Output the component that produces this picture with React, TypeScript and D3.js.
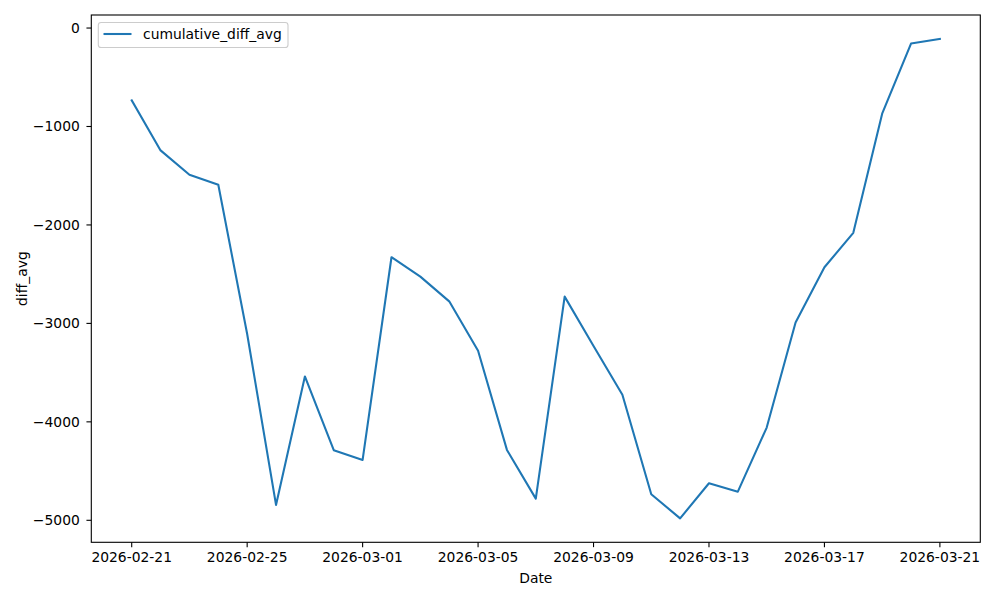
import React, { useEffect, useRef } from "react";
import * as d3 from "d3";

const dates: string[] = [
  "2026-02-21", "2026-02-22", "2026-02-23", "2026-02-24", "2026-02-25", "2026-02-26",
  "2026-02-27", "2026-02-28", "2026-03-01", "2026-03-02", "2026-03-03", "2026-03-04",
  "2026-03-05", "2026-03-06", "2026-03-07", "2026-03-08", "2026-03-09", "2026-03-10",
  "2026-03-11", "2026-03-12", "2026-03-13", "2026-03-14", "2026-03-15", "2026-03-16",
  "2026-03-17", "2026-03-18", "2026-03-19", "2026-03-20", "2026-03-21",
];
const cumulativeDiffAvg: number[] = [
  -734, -1243, -1490, -1592, -3108, -4844,
  -3539, -4288, -4387, -2328, -2525, -2776,
  -3278, -4285, -4780, -2728, -3230, -3725,
  -4736, -4980, -4624, -4709, -4058, -2990,
  -2430, -2080, -870, -158, -111,
];
const xTickLabels: string[] = [
  "2026-02-21", "2026-02-25", "2026-03-01", "2026-03-05", "2026-03-09",
  "2026-03-13", "2026-03-17", "2026-03-21",
];
const yTicks: number[] = [0, -1000, -2000, -3000, -4000, -5000];
const seriesName = "cumulative_diff_avg";

const W = 1000, H = 600;
const L = 91.3, R = 980.3, T = 15, B = 542.3;
const FONT = "DejaVu Sans, sans-serif";
const FS = 13.89;
const BLUE = "#1f77b4";

export default function App() {
  const ref = useRef<SVGSVGElement | null>(null);
  useEffect(() => {
    document.body.style.margin = "0";
    const svg = d3.select(ref.current);
    svg.selectAll("*").remove();
    const parse = d3.utcParse("%Y-%m-%d");
    const xs = dates.map((d) => parse(d) as Date);
    const x0 = +xs[0], x1 = +xs[xs.length - 1];
    const xm = (x1 - x0) * 0.05;
    const x = d3.scaleUtc().domain([new Date(x0 - xm), new Date(x1 + xm)]).range([L, R]);
    const ymin = d3.min(cumulativeDiffAvg)!, ymax = d3.max(cumulativeDiffAvg)!;
    const ym = (ymax - ymin) * 0.05;
    const y = d3.scaleLinear().domain([ymin - ym, ymax + ym]).range([B, T]);

    svg.append("rect").attr("x", 0).attr("y", 0).attr("width", W).attr("height", H).attr("fill", "white");

    const line = d3.line<number>().x((_, i) => x(xs[i])).y((v) => y(v));
    svg.append("path").datum(cumulativeDiffAvg).attr("d", line)
      .attr("fill", "none").attr("stroke", BLUE).attr("stroke-width", 2.08)
      .attr("stroke-linejoin", "round").attr("stroke-linecap", "square");

    // frame
    svg.append("rect").attr("x", L).attr("y", T).attr("width", R - L).attr("height", B - T)
      .attr("fill", "none").attr("stroke", "black").attr("stroke-width", 1.1);

    // x ticks
    const fmt = (v: number) => (v < 0 ? "\u2212" + Math.abs(v) : String(v));
    xTickLabels.forEach((s) => {
      const px = x(parse(s) as Date);
      svg.append("line").attr("x1", px).attr("x2", px).attr("y1", B).attr("y2", B + 4.86)
        .attr("stroke", "black").attr("stroke-width", 1.1);
      svg.append("text").attr("x", px).attr("y", B + 19.5).attr("text-anchor", "middle")
        .attr("font-family", FONT).attr("font-size", FS).attr("fill", "black").text(s);
    });
    yTicks.forEach((v) => {
      const py = y(v);
      svg.append("line").attr("x1", L - 4.86).attr("x2", L).attr("y1", py).attr("y2", py)
        .attr("stroke", "black").attr("stroke-width", 1.1);
      svg.append("text").attr("x", L - 11.5).attr("y", py + 5).attr("text-anchor", "end")
        .attr("font-family", FONT).attr("font-size", FS).attr("fill", "black").text(fmt(v));
    });

    svg.append("text").attr("x", (L + R) / 2).attr("y", 582.5).attr("text-anchor", "middle")
      .attr("font-family", FONT).attr("font-size", FS).attr("fill", "black").text("Date");
    svg.append("text").attr("transform", `translate(26.5,${(T + B) / 2}) rotate(-90)`)
      .attr("text-anchor", "middle")
      .attr("font-family", FONT).attr("font-size", FS).attr("fill", "black").text("diff_avg");

    // legend
    const lg = svg.append("g");
    lg.append("rect").attr("x", 98.3).attr("y", 22.5).attr("width", 189.7).attr("height", 25)
      .attr("rx", 2.8).attr("fill", "white").attr("fill-opacity", 0.8)
      .attr("stroke", "#cccccc").attr("stroke-width", 1.1);
    lg.append("line").attr("x1", 103.5).attr("x2", 131.5).attr("y1", 34).attr("y2", 34)
      .attr("stroke", BLUE).attr("stroke-width", 2.08);
    lg.append("text").attr("x", 143).attr("y", 39).attr("font-family", FONT).attr("font-size", FS)
      .attr("fill", "black").text(seriesName);
  }, []);
  return <svg ref={ref} width={W} height={H} style={{ display: "block" }} />;
}
